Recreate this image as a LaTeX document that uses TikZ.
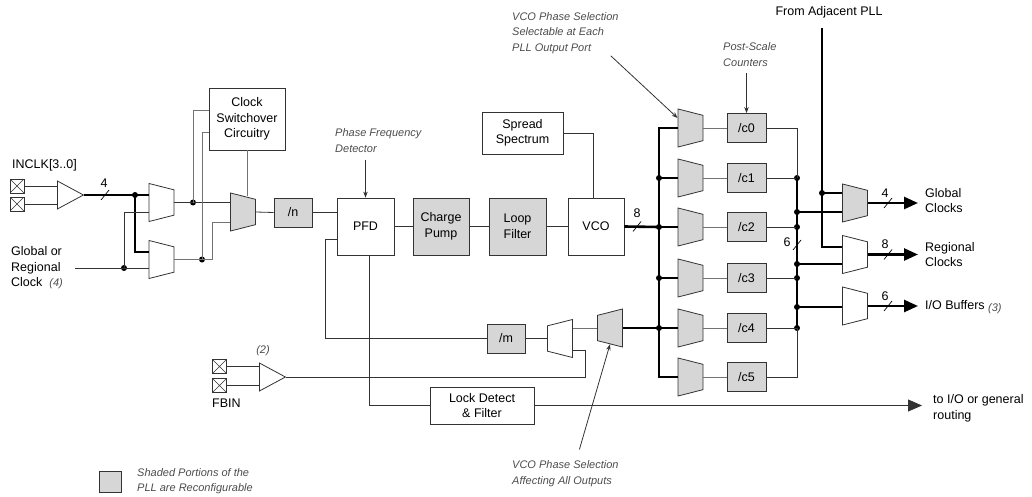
\documentclass[tikz,border=0pt]{standalone}
\usepackage{fontspec}
\setmainfont{Liberation Sans}
\usetikzlibrary{shapes.geometric,arrows.meta,positioning}

\definecolor{lineclr}{gray}{0.2}
\definecolor{greyline}{gray}{0.45}
\definecolor{shade}{gray}{0.84}
\definecolor{noteclr}{gray}{0.3}

\begin{document}
\begin{tikzpicture}
    [x=1pt,y=-1pt,
wire/.style={draw=lineclr,line width=0.8pt},
gwire/.style={draw=greyline,line width=0.8pt},
bus/.style={draw=black,line width=2.6pt},
block/.style={rectangle,draw=lineclr,line width=0.8pt,fill=white,align=center,inner sep=0pt,font=\fontsize{12.5}{15.5}\selectfont},
shadedblock/.style={block,fill=shade},
muxshape/.style={trapezium,trapezium angle=76,trapezium stretches=true,minimum width=38pt,minimum height=25pt,inner sep=1pt,draw=lineclr,line width=0.8pt,fill=white},
mux/.style={muxshape,rotate=-90},
xmux/.style={muxshape,rotate=90},
buf/.style={isosceles triangle,isosceles triangle stretches=true,minimum width=28pt,minimum height=26pt,inner sep=1pt,draw=lineclr,line width=0.8pt,fill=white},
pad/.style={rectangle,draw=lineclr,line width=0.7pt,minimum size=14pt,inner sep=0pt,
  path picture={\draw[lineclr,line width=0.6pt] (path picture bounding box.north west) -- (path picture bounding box.south east)
  (path picture bounding box.north east) -- (path picture bounding box.south west);}},
jdot/.style={circle,fill=black,inner sep=0pt,minimum size=6pt},
lbl/.style={inner sep=0pt,align=left,font=\fontsize{12.5}{15.5}\selectfont},
note/.style={inner sep=0pt,align=left,text=noteclr,font=\fontsize{11}{15.5}\selectfont\itshape},
outarrow/.style={-{Triangle[length=14pt,width=12pt]}},
tip/.style={-{Stealth[length=6pt,width=4.5pt]}},
slash/.style={draw=black,line width=0.7pt}
]
\useasboundingbox (0,0) rectangle (1032,497);

% input clocks
\node[lbl,anchor=west] (inclk) at (12,165) {INCLK[3..0]};
\node[pad] (pad1) at (17,186) {};
\node[pad] (pad2) at (17,204) {};
\node[buf,anchor=lower side] (bufin) at (57,195) {};
\draw[wire] (pad1.east) -- (pad1.east -| bufin.lower side);
\draw[wire] (pad2.east) -- (pad2.east -| bufin.lower side);

\node[lbl,anchor=west] (glob) at (11,268) {Global or\\Regional\\Clock~~{\color{noteclr}\fontsize{11}{15}\selectfont\itshape (4)}};
\coordinate (gin) at (75,268);

\node[mux] (mux1) at (161.5,202.5) {};
\node[mux] (mux2) at (161.5,259.5) {};
\node[jdot] (d1) at (135,195) {};
\node[jdot] (d2) at (124,268) {};
\draw[bus] (bufin.apex) -- (bufin.apex -| mux1.bottom side);
\draw[bus] (d1.center) |- (135,252 -| mux2.bottom side);
\draw[wire] (gin) -- (gin -| mux2.bottom side);
\draw[wire] (d2.center) |- (124,212 -| mux1.bottom side);
\coordinate (s4) at (105,195);
\draw[slash] ([shift={(-4,5)}]s4) -- ([shift={(4,-5)}]s4);
\node[lbl] (n4) at (104,183) {4};

% clock switchover
\node[block,minimum width=76pt,minimum height=62pt] (css) at (247,119) {Clock\\Switchover\\Circuitry};
\node[mux,fill=shade] (mux3) at (243,212) {};
\node[jdot] (d3) at (193,202.5) {};
\node[jdot] (d4) at (202,259.5) {};
\draw[wire] (mux1.top side) -- (mux1.top side -| mux3.bottom side);
\draw[gwire] (mux2.top side) -| (212,222) -- (212,222 -| mux3.bottom side);
\draw[gwire] (d3.center) |- (193,110 -| css.west);
\draw[gwire] (d4.center) |- (202,132 -| css.west);
\draw[gwire] (css.south) -- (css.south |- mux3.west);

% main loop
\node[shadedblock,minimum width=38pt,minimum height=29pt] (ndiv) at (293,212.5) {/n};
\node[block,minimum width=57pt,minimum height=57pt] (pfd) at (365.5,226.5) {PFD};
\node[shadedblock,minimum width=56pt,minimum height=57pt] (cp) at (441,226.5) {Charge\\Pump};
\node[shadedblock,minimum width=57pt,minimum height=57pt] (lf) at (517.5,226.5) {Loop\\Filter};
\node[block,minimum width=56pt,minimum height=57pt] (vco) at (596,226.5) {VCO};
\node[block,minimum width=81pt,minimum height=42pt] (ss) at (522.5,133) {Spread\\Spectrum};
\draw[wire] (mux3.top side) -- (ndiv.west);
\draw[wire] (ndiv.east) -- (ndiv.east -| pfd.west);
\draw[wire] (pfd) -- (cp);
\draw[wire] (cp) -- (lf);
\draw[wire] (lf) -- (vco);
\draw[wire] (ss.east) -| ([xshift=-3pt]vco.north);
\node[note,anchor=west] (pfdnote) at (335,140.5) {Phase Frequency\\Detector};
\draw[wire,tip] ([yshift=-8pt]pfdnote.south -| pfd.north) -- (pfd.north);

% phase select and post-scale counters
\foreach \i/\y in {0/128,1/178,2/227,3/278,4/328,5/377} {
  \node[mux,fill=shade] (psel\i) at (690.5,\y) {};
  \node[shadedblock,minimum width=39pt,minimum height=29pt] (c\i) at (746.5,\y) {/c\i};
  \draw[gwire] (psel\i.top side) -- (c\i.west);
}
\draw[bus] (psel0.bottom side) -| (659,300) |- (psel5.bottom side);
\foreach \i in {1,2,3,4} {
  \node[jdot] (dl\i) at (psel\i.bottom side -| 659,0) {};
  \draw[bus] (dl\i.center) -- (psel\i.bottom side);
  \node[jdot] (dr\i) at (c\i.east -| 797,0) {};
  \draw[wire] (c\i.east) -- (dr\i.center);
}
\draw[bus] (vco.east) -- (dl2.center);
\coordinate (s8) at (637,226.5);
\draw[slash] ([shift={(-4,5)}]s8) -- ([shift={(4,-5)}]s8);
\node[lbl] (n8) at (637,213) {8};
\draw[wire] (c0.east) -| (dr1.center);
\draw[wire] (c5.east) -| (dr4.center);
\draw[bus] (dr1.center) -- (dr4.center);
\coordinate (s6) at (797,245);
\draw[slash] ([shift={(-4,5)}]s6) -- ([shift={(4,-5)}]s6);
\node[lbl] (n6) at (787,242) {6};

\node[note,anchor=west] (selnote) at (512,33) {VCO Phase Selection\\Selectable at Each\\PLL Output Port};
\draw[wire,tip] ([xshift=-8pt,yshift=-2pt]selnote.south east) -- ([yshift=10pt]psel0.bottom side);
\node[note,anchor=west] (pscnote) at (723,54.5) {Post-Scale\\Counters};
\draw[wire,tip] ([yshift=-7pt]pscnote.south -| c0.north) -- (c0.north);

% output muxes
\node[mux,fill=shade] (gmux) at (855,203) {};
\node[mux] (rmux) at (855,254.5) {};
\node[mux] (iomux) at (855,306) {};
\node[jdot] (dg) at (797,212) {};
\node[jdot] (drg) at (797,264) {};
\node[jdot] (dio) at (797,307) {};
\draw[bus] (dg.center) -- (dg.center -| gmux.bottom side);
\draw[bus] (drg.center) -- (drg.center -| rmux.bottom side);
\draw[bus] (dio.center) -- (dio.center -| iomux.bottom side);

\node[lbl] (adj) at (829,12) {From Adjacent PLL};
\coordinate (adjtop) at (822,28);
\node[jdot] (dadj) at (822,193) {};
\draw[bus] (adjtop) -- (dadj.center) -- (dadj.center -| gmux.bottom side);
\draw[draw=black,line width=1.6pt] (dadj.center) |- (822,247 -| rmux.bottom side);

\node[lbl,anchor=west] (glbl) at (925,200.5) {Global\\Clocks};
\node[lbl,anchor=west] (rlbl) at (925,254.5) {Regional\\Clocks};
\node[lbl,anchor=west] (iolbl) at (925,307) {I/O Buffers~{\color{noteclr}\fontsize{11}{15}\selectfont\itshape\raisebox{-2pt}{(3)}}};
\draw[bus,outarrow,shorten >=7pt] (gmux.top side) -- (gmux.top side -| glbl.west);
\draw[bus,outarrow,shorten >=7pt] (rmux.top side) -- (rmux.top side -| rlbl.west);
\draw[bus,outarrow,shorten >=7pt] (iomux.top side) -- (iomux.top side -| iolbl.west);
\foreach \o/\n/\t in {gmux/4/ga,rmux/8/ra,iomux/6/ia} {
  \coordinate (\t) at (\o.top side -| 888,0);
  \draw[slash] ([shift={(-4,5)}]\t) -- ([shift={(4,-5)}]\t);
  \node[lbl] (\t n) at ([shift={(-3,-10)}]\t) {\n};
}

% feedback path
\node[shadedblock,minimum width=38pt,minimum height=29pt] (mdiv) at (506,338.5) {/m};
\node[xmux] (fbmux) at (560,338.5) {};
\node[xmux,fill=shade] (allmux) at (610,328) {};
\coordinate (fbk) at (325,338.5);
\draw[wire] ([yshift=-12.5pt]pfd.west) -| (fbk) -- (mdiv.west);
\draw[wire] (mdiv.east) -- (fbmux.top side);
\draw[gwire] (allmux.top side) -- (allmux.top side -| fbmux.bottom side);
\draw[bus] (allmux.bottom side) -- (dl4.center);

\node[pad] (fpad1) at (219.5,366.5) {};
\node[pad] (fpad2) at (219.5,385.5) {};
\node[buf,anchor=lower side] (fbuf) at (259,377) {};
\draw[wire] (fpad1.east) -- (fpad1.east -| fbuf.lower side);
\draw[wire] (fpad2.east) -- (fpad2.east -| fbuf.lower side);
\node[note] (n2) at (263,351) {(2)};
\node[lbl,anchor=west] (fbin) at (212,403) {FBIN};
\coordinate (fbturn) at (585,350);
\draw[wire] (fbuf.apex) -| (fbturn) -- (fbturn -| fbmux.bottom side);

% lock detect
\node[block,minimum width=104pt,minimum height=37pt] (lock) at (482,405.5) {Lock Detect\\\& Filter};
\draw[wire] ([xshift=3.5pt]pfd.south) |- (lock.west);
\node[lbl,anchor=west] (route) at (933,408.5) {to I/O or general\\routing};
\draw[wire,outarrow,shorten >=11pt] (lock.east) -- (lock.east -| route.west);

\node[note,anchor=west] (allnote) at (512,473.5) {VCO Phase Selection\\Affecting All Outputs};
\draw[wire,tip] ([xshift=14pt,yshift=11pt]allnote.north) -- (allmux.west);

% legend
\node[shadedblock,minimum width=22pt,minimum height=21pt] (legbox) at (110,481.5) {};
\node[note,anchor=west] (legnote) at (137,481) {Shaded Portions of the\\PLL are Reconfigurable};
\end{tikzpicture}
\end{document}
